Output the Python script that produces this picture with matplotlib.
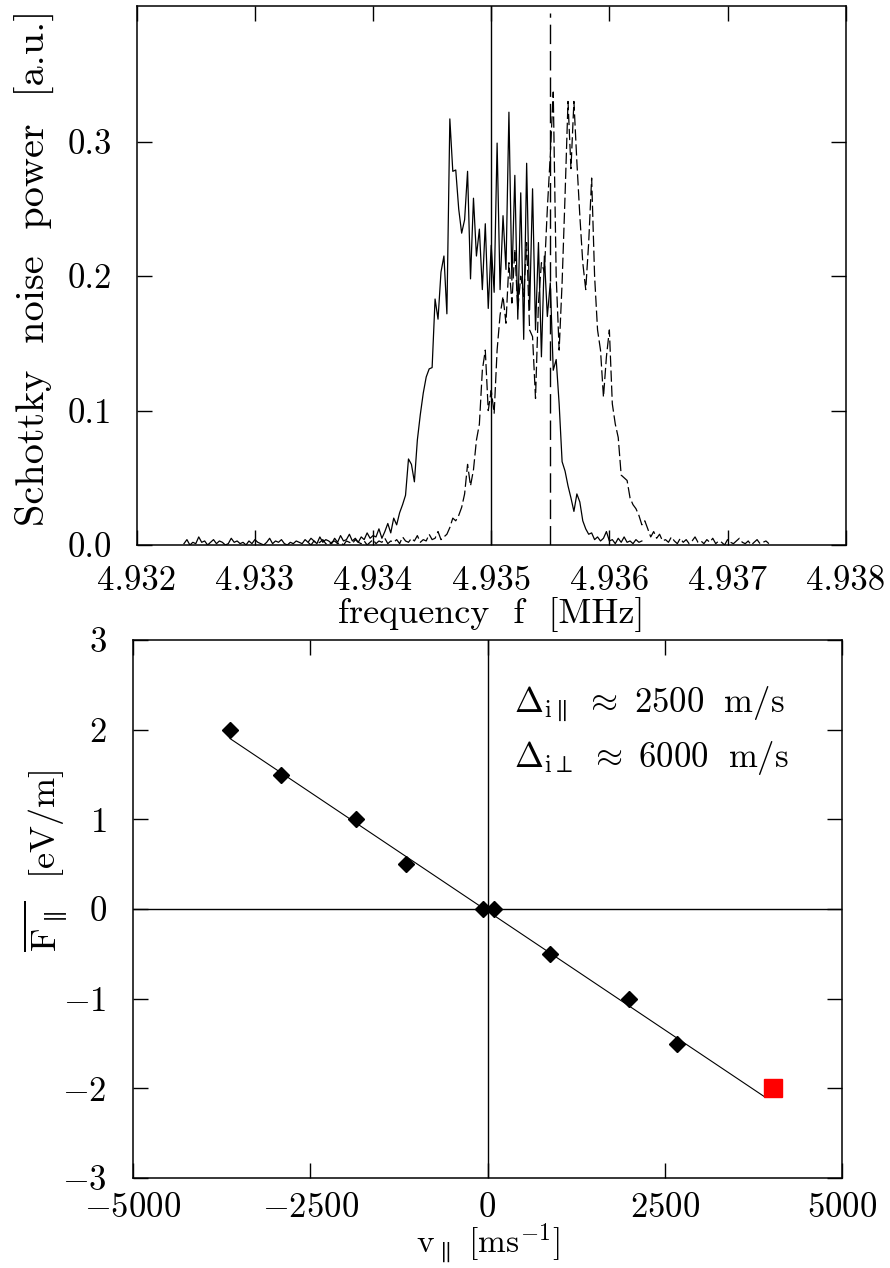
import numpy as np
import matplotlib
matplotlib.use("Agg")
import matplotlib.pyplot as plt

plt.rcParams['font.family'] = ['cmr10', 'DejaVu Serif']
plt.rcParams['mathtext.fontset'] = 'cm'
plt.rcParams['axes.formatter.use_mathtext'] = True
plt.rcParams['axes.unicode_minus'] = True

# ---------------- data: Schottky spectra ----------------
freq_step = 0.000025
solid_f0 = 4.93240            # first frequency of the solid spectrum
dashed_f0 = 4.93345           # first frequency of the dashed spectrum

solid_power = [
    0.001, 0.004, 0.000, 0.002, 0.001, 0.006, 0.002, 0.003, 0.000, 0.002,
    0.004, 0.001, 0.003, 0.002, 0.000, 0.001, 0.005, 0.002, 0.003, 0.001,
    0.002, 0.000, 0.003, 0.001, 0.004, 0.002, 0.001, 0.000, 0.002, 0.005,
    0.001, 0.003, 0.002, 0.004, 0.001, 0.000, 0.002, 0.001, 0.003, 0.002,
    0.001, 0.004, 0.002, 0.005, 0.003, 0.001, 0.006, 0.002, 0.004, 0.003,
    0.001, 0.005, 0.002, 0.007, 0.003, 0.004, 0.008, 0.003, 0.005, 0.002,
    0.006, 0.004, 0.009, 0.005, 0.007,
    0.006, 0.012, 0.005, 0.010, 0.016, 0.009, 0.020, 0.015, 0.024, 0.030,
    0.037, 0.064, 0.060, 0.047, 0.078, 0.097, 0.113, 0.125, 0.131, 0.132,
    0.183, 0.168, 0.203, 0.215, 0.172, 0.317, 0.278, 0.279, 0.250, 0.232,
    0.242, 0.278, 0.198, 0.258, 0.215, 0.235, 0.190, 0.239, 0.176, 0.223,
    0.188, 0.299, 0.190, 0.245, 0.205, 0.322, 0.197, 0.275, 0.168, 0.262,
    0.153, 0.284, 0.175, 0.265, 0.160, 0.225, 0.140, 0.215, 0.170, 0.195,
    0.130, 0.138, 0.105, 0.062, 0.055, 0.044, 0.035, 0.025, 0.038, 0.032,
    0.018, 0.012, 0.008, 0.009, 0.004, 0.006, 0.003, 0.005, 0.010, 0.003,
    0.004, 0.001, 0.005, 0.002, 0.006, 0.002, 0.003, 0.001, 0.004, 0.002,
    0.003,
]

dashed_power = [
    0.002, 0.000, 0.003, 0.001, 0.002, 0.004, 0.001, 0.000, 0.002, 0.003,
    0.001, 0.002, 0.000, 0.003, 0.002, 0.001, 0.004, 0.002, 0.001, 0.003,
    0.000, 0.002, 0.004, 0.001, 0.003, 0.002, 0.005, 0.001, 0.003, 0.002,
    0.004, 0.001, 0.006, 0.003, 0.002, 0.005, 0.003, 0.007, 0.002, 0.004,
    0.003, 0.008, 0.004, 0.005, 0.010, 0.004, 0.006,
    0.008, 0.013, 0.020, 0.018, 0.022, 0.028, 0.038, 0.060, 0.044, 0.056,
    0.078, 0.090, 0.130, 0.145, 0.100, 0.115, 0.098, 0.145, 0.171, 0.185,
    0.165, 0.210, 0.180, 0.220, 0.175, 0.200, 0.185, 0.225, 0.160, 0.155,
    0.109, 0.180, 0.210, 0.203, 0.250, 0.290, 0.337, 0.200, 0.145, 0.195,
    0.260, 0.330, 0.280, 0.330, 0.285, 0.245, 0.210, 0.190, 0.225, 0.273,
    0.200, 0.160, 0.145, 0.110, 0.140, 0.160, 0.105, 0.090, 0.080, 0.052,
    0.050, 0.048, 0.035, 0.030, 0.027, 0.022, 0.015, 0.018, 0.012, 0.006,
    0.010, 0.005, 0.008, 0.003,
    0.004, 0.002, 0.006, 0.003, 0.001, 0.005, 0.002, 0.004, 0.001, 0.003,
    0.006, 0.002, 0.003, 0.001, 0.004, 0.002, 0.005, 0.001, 0.003, 0.002,
    0.000, 0.004, 0.002, 0.001, 0.003, 0.005, 0.002, 0.001, 0.003, 0.000,
    0.002, 0.004, 0.001, 0.002, 0.003, 0.001,
]

f_marker_solid = 4.9350
f_marker_dashed = 4.9355
dashed_marker_top = 0.396

freq_ticks = [4.932, 4.933, 4.934, 4.935, 4.936, 4.937, 4.938]
freq_ticklabels = ['4.932', '4.933', '4.934', '4.935', '4.936', '4.937', '4.938']
power_ticks = [0.0, 0.1, 0.2, 0.3]
power_ticklabels = ['0.0', '0.1', '0.2', '0.3']

# ---------------- data: friction force ----------------
v_par = [-3635, -2915, -1860, -1150, -65, 90, 880, 2000, 2675]
F_par = [2.0, 1.5, 1.0, 0.5, 0.0, 0.0, -0.5, -1.0, -1.5]
v_red = [4020]
F_red = [-2.0]
fit_v = [-3630, 3900]
fit_F = [1.90, -2.09]

v_ticks = [-5000, -2500, 0, 2500, 5000]
v_ticklabels = [r'$-5000$', r'$-2500$', r'$0$', r'$2500$', r'$5000$']
F_ticks = [-3, -2, -1, 0, 1, 2, 3]
F_ticklabels = [r'$-3$', r'$-2$', r'$-1$', r'$0$', r'$1$', r'$2$', r'$3$']

# ---------------- figure ----------------
W, H = 890, 1268
fig = plt.figure(figsize=(W / 100, H / 100), dpi=100)

def ax_rect(l, r, t, b):
    return [l / W, 1 - b / H, (r - l) / W, (b - t) / H]

ax1 = fig.add_axes(ax_rect(136.7, 845.7, 6, 545))
ax2 = fig.add_axes(ax_rect(133, 842, 640, 1178))

FS = 25
LFS = 26

for ax in (ax1, ax2):
    for s in ax.spines.values():
        s.set_linewidth(1.1)
    ax.tick_params(direction='in', length=10.5, width=1.0, top=True, right=True,
                   labelsize=FS)

# top panel
f_solid = solid_f0 + freq_step * np.arange(len(solid_power))
f_dash = dashed_f0 + freq_step * np.arange(len(dashed_power))
ax1.plot(f_solid, solid_power, color='black', lw=0.9)
ax1.plot(f_dash, dashed_power, color='black', lw=0.9, linestyle=(0, (9, 3)))
ax1.axvline(f_marker_solid, color='black', lw=1.0)
ax1.vlines(f_marker_dashed, 0, dashed_marker_top, color='black', lw=1.0,
           linestyles=[(0, (14, 5))])
ax1.set_xlim(4.932, 4.938)
ax1.set_ylim(0, 0.401)
ax1.set_xticks(freq_ticks)
ax1.set_xticklabels(freq_ticklabels)
ax1.set_yticks(power_ticks)
ax1.set_yticklabels(power_ticklabels)
ax1.tick_params(axis='x', pad=15)
ax1.tick_params(axis='y', pad=18)
ax1.set_xlabel('frequency  f  [MHz]', fontsize=LFS)
ax1.set_ylabel('Schottky  noise  power  [a.u.]', fontsize=29)
ax1.xaxis.label.set_va('center')
ax1.yaxis.label.set_va('center')
ax1.xaxis.set_label_coords(0.5, (545 - 614) / 539)
ax1.yaxis.set_label_coords((35 - 136.7) / 709, 0.514)

# bottom panel
ax2.axhline(0, color='black', lw=1.0)
ax2.axvline(0, color='black', lw=1.0)
ax2.plot(fit_v, fit_F, color='black', lw=0.8)
ax2.plot(v_par, F_par, linestyle='none', marker='D', markersize=8,
         color='black')
ax2.plot(v_red, F_red, linestyle='none', marker='s', markersize=13,
         color='#ff0000')
ax2.set_xlim(-5000, 5000)
ax2.set_ylim(-3, 3)
ax2.set_xticks(v_ticks)
ax2.set_xticklabels(v_ticklabels)
ax2.set_yticks(F_ticks)
ax2.set_yticklabels(F_ticklabels)
ax2.tick_params(axis='x', pad=10)
ax2.tick_params(axis='y', pad=19)
ax2.set_xlabel(r'v$_{\parallel}$ [ms$^{-1}$]', fontsize=24)
ax2.set_ylabel(r'$\overline{\mathrm{F}_{\parallel}}$  [eV/m]', fontsize=LFS)
ax2.xaxis.label.set_va('bottom')
ax2.yaxis.label.set_va('center')
ax2.xaxis.set_label_coords(0.5, (1178 - 1266) / 538)
ax2.yaxis.set_label_coords((46 - 133) / 709, 0.59)

ax2.text((514 - 133) / 709, (1178 - 712) / 538,
         r'$\Delta_{\mathrm{i}\parallel}\ \approx\ 2500\ \ \mathrm{m/s}$',
         transform=ax2.transAxes, fontsize=FS, va='baseline', ha='left')
ax2.text((514 - 133) / 709, (1178 - 767) / 538,
         r'$\Delta_{\mathrm{i}\perp}\ \approx\ 6000\ \ \mathrm{m/s}$',
         transform=ax2.transAxes, fontsize=FS, va='baseline', ha='left')

fig.savefig('out.png', dpi=100)
